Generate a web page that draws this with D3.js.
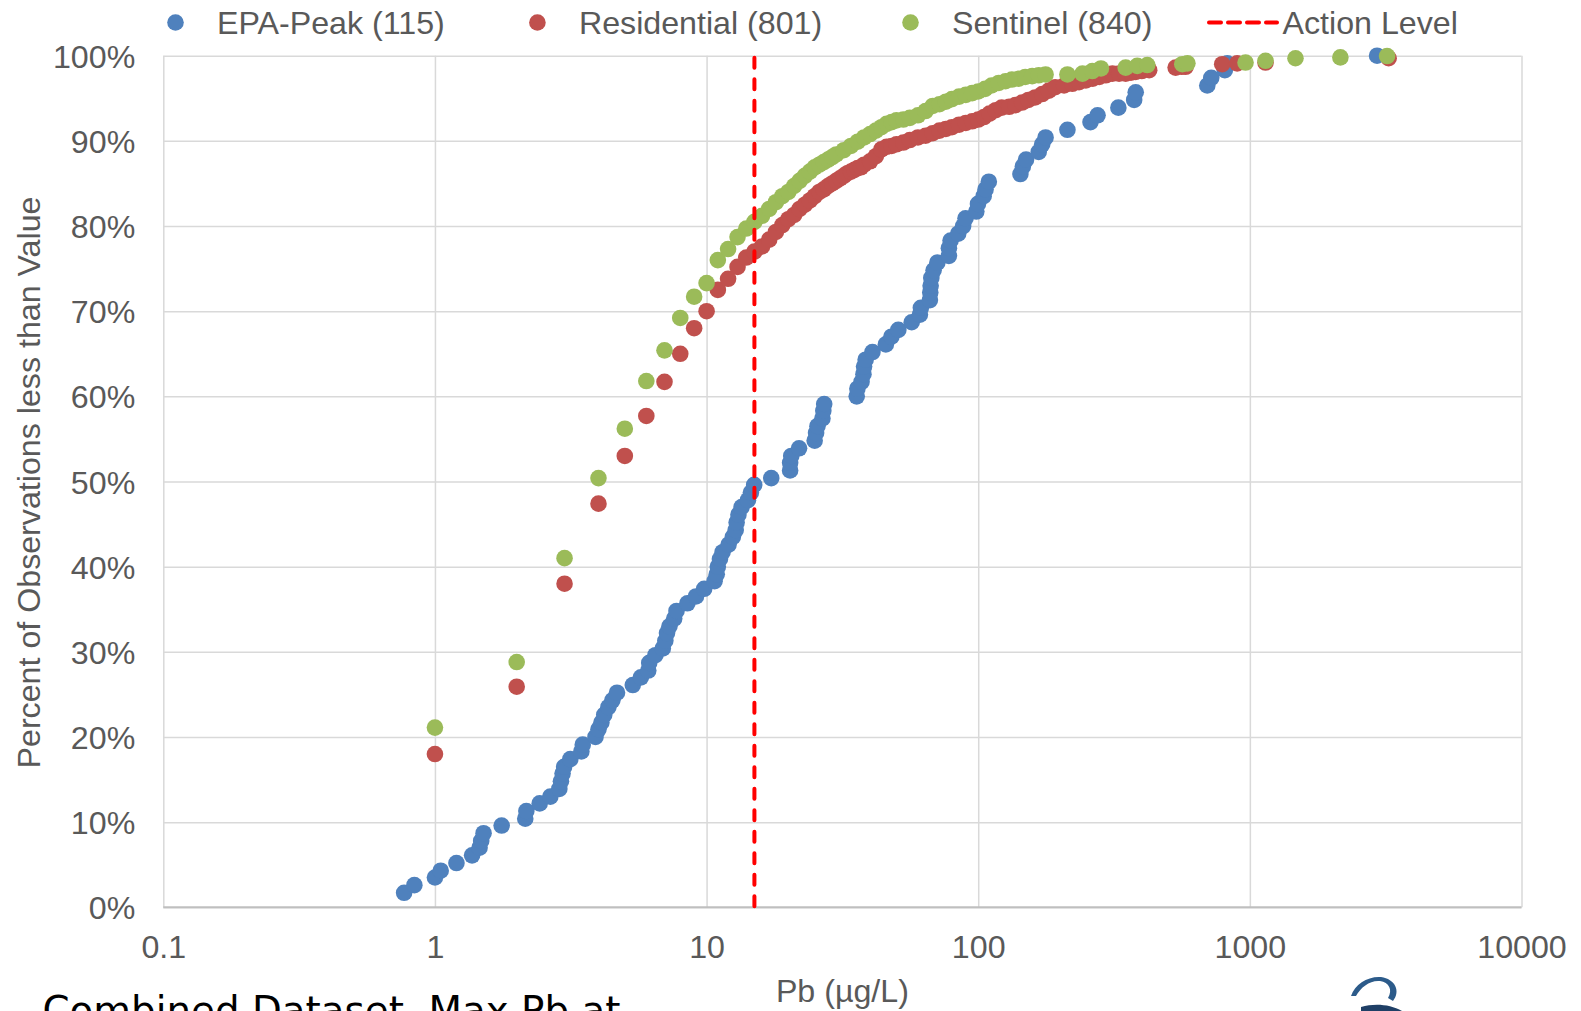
<!DOCTYPE html>
<html><head><meta charset="utf-8">
<script src="https://cdn.jsdelivr.net/npm/d3@7"></script>
<style>html,body{margin:0;padding:0;background:#fff;overflow:hidden}</style>
</head><body><svg id="chart" width="1581" height="1011"></svg>
<script>
// ---------------- data ----------------
const seriesNames = ["EPA-Peak (115)", "Residential (801)", "Sentinel (840)"];
const actionLabel = "Action Level";
const actionLevel = 15;
const xTitle = "Pb (µg/L)";
const yTitle = "Percent of Observations less than Value";
const captionText = "Combined Dataset, Max Pb at";
const xTickValues = [0.1, 1, 10, 100, 1000, 10000];
const xTickLabels = ["0.1", "1", "10", "100", "1000", "10000"];
const yTickValues = [0, 10, 20, 30, 40, 50, 60, 70, 80, 90, 100];
const yTickLabels = ["0%", "10%", "20%", "30%", "40%", "50%", "60%", "70%", "80%", "90%", "100%"];

const epaPeakPb = [0.77,0.84,1.0,1.05,1.2,1.37,1.46,1.48,1.51,1.76,
  2.15,2.17,2.43,2.66,2.87,2.91,2.95,2.99,3.15,3.46,
  3.5,3.9,4.0,4.1,4.2,4.35,4.5,4.68,5.35,5.73,
  6.1,6.15,6.48,6.9,7.05,7.15,7.3,7.6,7.75,8.5,
  9.14,9.8,10.7,10.9,11.0,11.2,11.45,12.05,12.5,12.8,
  12.9,13.1,13.45,14.2,14.56,14.97,17.3,20.3,20.3,20.5,
  21.9,25.0,25.3,25.6,26.7,26.9,27.1,35.7,35.9,37.2,
  37.8,38.0,38.5,40.8,45.7,47.9,50.8,56.9,61.0,61.5,
  66.4,66.6,66.8,67.2,68.5,70.7,78.0,78.0,79.1,84.4,
  88.0,89.8,98.4,99.8,104.7,106.4,109.4,143,146,150,
  167,172,177,213,259,275,328,375,380,697,
  721,809,826,2940];
const epaPeakPct = [1.7,2.6,3.5,4.3,5.2,6.1,7.0,7.8,8.7,9.6,
  10.4,11.3,12.2,13.0,13.9,14.8,15.7,16.5,17.4,18.3,
  19.1,20.0,20.9,21.7,22.6,23.5,24.3,25.2,26.1,27.0,
  27.8,28.7,29.6,30.4,31.3,32.2,33.0,33.9,34.8,35.7,
  36.5,37.4,38.3,39.1,40.0,40.9,41.7,42.6,43.5,44.3,
  45.2,46.1,47.0,47.8,48.7,49.6,50.4,51.3,52.2,53.0,
  53.9,54.8,55.7,56.5,57.4,58.3,59.1,60.0,60.9,61.7,
  62.6,63.5,64.3,65.2,66.1,67.0,67.8,68.7,69.6,70.4,
  71.3,72.2,73.0,73.9,74.8,75.7,76.5,77.4,78.3,79.1,
  80.0,80.9,81.7,82.6,83.5,84.3,85.2,86.1,87.0,87.8,
  88.7,89.6,90.4,91.3,92.2,93.0,93.9,94.8,95.7,96.5,
  97.4,98.3,99.1,100];

const residentialPb = [1,2,3,4,5,6,7,8,9,10,11,12,13,14,15,16,17,18,19,20,
  21,22,23,24,25,26,27,28,29,30,31,32,33,34,35,36,37,38,40,42,44,46,48,50,
  53,56,60,64,68,72,76,80,85,90,95,100,105,110,116,122,130,137,145,153,162,172,182,192,
  207,222,235,249,264,279,295,312,330,349,365,380,400,426,533,560,580,791,898,1142,3243];
const residentialPct = [18.0,25.9,38.0,47.4,53.0,57.7,61.7,65.0,68.0,70.0,
  72.5,73.8,75.2,76.3,77.0,77.6,78.4,79.3,80.1,80.8,
  81.3,82.0,82.5,83.0,83.5,84.0,84.3,84.7,85.0,85.3,
  85.6,85.9,86.2,86.4,86.6,86.8,86.9,87.2,87.6,88.2,89.0,89.3,89.4,89.6,
  89.8,90.1,90.4,90.6,90.9,91.2,91.4,91.6,91.9,92.1,92.3,92.5,
  92.8,93.2,93.6,93.9,94.0,94.2,94.5,94.8,95.1,95.5,95.9,96.3,
  96.5,96.7,96.9,97.1,97.3,97.5,97.7,97.9,97.9,97.9,98.0,98.1,98.2,98.3,
  98.6,98.7,98.7,99.0,99.1,99.2,99.7];

const sentinelPb = [1,2,3,4,5,6,7,8,9,10,11,12,13,14,15,16,17,18,19,20,
  21,22,23,24,25,26,27,28,29,30,32,34,36,38,40,42,44,46,48,50,
  53,56,60,64,68,72,76,80,85,90,95,100,106,112,119,126,133,141,149,158,167,177,
  213,242,263,283,349,385,419,564,589,964,1142,1472,2154,3200];
const sentinelPct = [21.1,28.8,41.0,50.4,56.2,61.8,65.4,69.2,71.7,73.3,
  76.0,77.3,78.7,79.7,80.5,81.2,82.0,82.8,83.5,84.0,
  84.7,85.3,85.9,86.4,86.9,87.2,87.5,87.8,88.1,88.4,
  88.9,89.4,89.9,90.4,90.8,91.2,91.6,92.0,92.2,92.4,
  92.5,92.7,93.0,93.5,94.1,94.3,94.6,94.9,95.2,95.4,95.6,95.8,
  96.1,96.5,96.8,97.0,97.2,97.3,97.5,97.6,97.7,97.8,
  97.8,97.9,98.2,98.5,98.6,98.8,98.9,99.0,99.1,99.2,99.4,99.7,99.8,99.96];

const seriesColors = ["#4F81BD", "#C0504D", "#9BBB59"];

// ---------------- chart ----------------
const svg = d3.select("#chart");
const FONT = "'Liberation Sans', Arial, Helvetica, sans-serif";
const FS = 32.2;
const TXT = "#595959";
const R = 8.3;
const m = {left: 163.3, right: 1521.5, top: 55.7, bottom: 907.3};
const x = d3.scaleLog().domain([0.1, 10000]).range([m.left, m.right]);
const y = d3.scaleLinear().domain([0, 100]).range([m.bottom, m.top]);

// vertical grid
svg.append("g").attr("transform", `translate(0,${m.bottom})`)
  .call(d3.axisBottom(x).tickValues(xTickValues).tickSize(-(m.bottom - m.top)).tickFormat(""))
  .call(g => { g.select(".domain").remove();
    g.selectAll("line").attr("stroke", "#D9D9D9").attr("stroke-width", 1.5); });
// horizontal grid
svg.append("g").attr("transform", `translate(${m.left},0)`)
  .call(d3.axisLeft(y).tickValues(yTickValues).tickSize(-(m.right - m.left)).tickFormat(""))
  .call(g => { g.select(".domain").remove();
    g.selectAll("line").attr("stroke", "#D9D9D9").attr("stroke-width", 1.5); });
// bottom axis line
svg.append("line").attr("x1", m.left).attr("x2", m.right)
  .attr("y1", y(0)).attr("y2", y(0)).attr("stroke", "#BFBFBF").attr("stroke-width", 2);

// x tick labels
svg.append("g").attr("transform", `translate(0,${m.bottom})`)
  .call(d3.axisBottom(x).tickValues(xTickValues).tickSize(0)
    .tickFormat((d, i) => xTickLabels[i]))
  .call(g => { g.select(".domain").remove();
    g.selectAll("text").attr("y", 50.5).attr("dy", null)
     .attr("fill", TXT).attr("font-size", FS).attr("font-family", FONT); });
// y tick labels
svg.append("g").attr("transform", `translate(${m.left},0)`)
  .call(d3.axisLeft(y).tickValues(yTickValues).tickSize(0)
    .tickFormat((d, i) => yTickLabels[i]))
  .call(g => { g.select(".domain").remove();
    g.selectAll("text").attr("x", -28).attr("dy", "0.36em")
     .attr("fill", TXT).attr("font-size", FS).attr("font-family", FONT); });

// axis titles
svg.append("text").attr("x", (m.left + m.right) / 2).attr("y", 1002)
  .attr("text-anchor", "middle").attr("fill", TXT).attr("font-size", FS)
  .attr("font-family", FONT).text(xTitle);
svg.append("text").attr("transform", `translate(40,${(m.top + m.bottom) / 2 + 1}) rotate(-90)`)
  .attr("text-anchor", "middle").attr("fill", TXT).attr("font-size", FS)
  .attr("font-family", FONT).text(yTitle);

// series points
const series = [
  {pb: epaPeakPb, pct: epaPeakPct},
  {pb: residentialPb, pct: residentialPct},
  {pb: sentinelPb, pct: sentinelPct}
];
series.forEach((s, k) => {
  const pts = s.pb.map((v, i) => [v, s.pct[i]]);
  svg.append("g").selectAll("circle").data(pts).join("circle")
    .attr("cx", d => x(d[0])).attr("cy", d => y(d[1])).attr("r", R)
    .attr("fill", seriesColors[k]);
});

// action level line
svg.append("line").attr("x1", x(actionLevel)).attr("x2", x(actionLevel))
  .attr("y1", y(100) + 2).attr("y2", y(0))
  .attr("stroke", "#FF0000").attr("stroke-width", 4)
  .attr("stroke-dasharray", "10 11.5").attr("stroke-linecap", "round");

// legend
const legX = [175.5, 537.4, 910.5];
const legY = 22.5;
seriesNames.forEach((name, k) => {
  svg.append("circle").attr("cx", legX[k]).attr("cy", legY).attr("r", R).attr("fill", seriesColors[k]);
  svg.append("text").attr("x", legX[k] + 41.5).attr("y", legY + 11.5)
    .attr("fill", TXT).attr("font-size", FS).attr("font-family", FONT).text(name);
});
svg.append("line").attr("x1", 1209).attr("x2", 1277).attr("y1", legY).attr("y2", legY)
  .attr("stroke", "#FF0000").attr("stroke-width", 4)
  .attr("stroke-dasharray", "12 7").attr("stroke-linecap", "round");
svg.append("text").attr("x", 1282.5).attr("y", legY + 11.5)
  .attr("fill", TXT).attr("font-size", FS).attr("font-family", FONT).text(actionLabel);

// caption (cut off at the bottom, as in the source image)
svg.append("text").attr("x", 42.5).attr("y", 1024)
  .attr("fill", "#000").attr("font-size", 38.8)
  .attr("font-family", "'DejaVu Sans', Verdana, sans-serif").text(captionText);

// small logo fragment
const logo = svg.append("g");
logo.append("path")
  .attr("d", "M1351,996 C1355,984 1368,976 1381,977 C1395,979 1401,991 1393,1001 L1388,998 C1393,990 1389,982 1380,981 C1370,980 1361,987 1356,996 Z")
  .attr("fill", "#2C5B8A");
logo.append("path")
  .attr("d", "M1361,1007 C1374,1003 1390,1004 1402,1011 L1361,1011 Z")
  .attr("fill", "#1F3F66");
</script></body></html>
